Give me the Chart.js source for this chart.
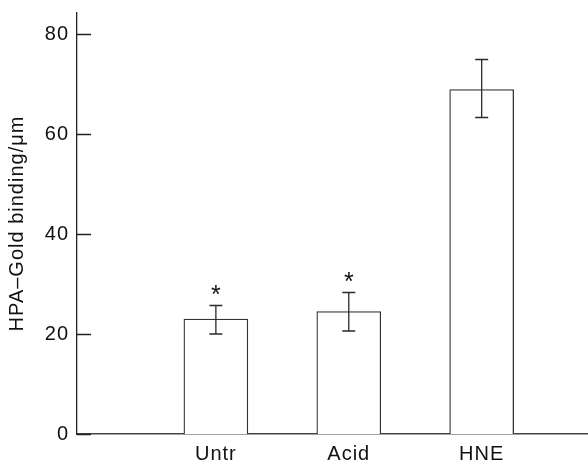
<!DOCTYPE html>
<html>
<head>
<meta charset="utf-8">
<script src="https://cdn.jsdelivr.net/npm/chart.js@4/dist/chart.umd.min.js"></script>
<style>
html,body{margin:0;padding:0;background:#fff;}
canvas{display:block;}
</style>
</head>
<body>
<canvas id="c" width="588" height="464"></canvas>
<script>
const categories = ["Untr", "Acid", "HNE"];
const positions = [1, 2, 3];
const means = [23.0, 24.5, 68.9];
const errUpper = [25.7, 28.3, 74.9];
const errLower = [20.0, 20.6, 63.3];
const marks = ["*", "*", ""];
const yTicks = [0, 20, 40, 60, 80];

const FONT = "'Liberation Sans', Arial, sans-serif";
const SPACING = '1px';

const spacingPlugin = {
  id: 'spacing',
  beforeUpdate(chart) { chart.ctx.letterSpacing = SPACING; },
  beforeDraw(chart) { chart.ctx.letterSpacing = SPACING; }
};

const errorBarPlugin = {
  id: 'errorBars',
  afterDatasetsDraw(chart) {
    const ctx = chart.ctx;
    const y = chart.scales.y;
    const meta = chart.getDatasetMeta(0);
    ctx.save();
    meta.data.forEach((bar, i) => {
      const x = bar.x;
      const yu = y.getPixelForValue(errUpper[i]);
      const yl = y.getPixelForValue(errLower[i]);
      ctx.strokeStyle = '#2a2a2a';
      ctx.lineWidth = 1.3;
      ctx.beginPath();
      ctx.moveTo(x, yu); ctx.lineTo(x, yl);
      ctx.moveTo(x - 6.5, yu); ctx.lineTo(x + 6.5, yu);
      ctx.moveTo(x - 6.5, yl); ctx.lineTo(x + 6.5, yl);
      ctx.stroke();
      if (marks[i]) {
        ctx.letterSpacing = '0px';
        ctx.fillStyle = '#111';
        ctx.font = "25px " + FONT;
        ctx.textAlign = 'center';
        ctx.textBaseline = 'alphabetic';
        ctx.fillText(marks[i], x, yu - 3);
      }
    });
    ctx.restore();
  }
};

const innerTicksPlugin = {
  id: 'innerTicks',
  afterDraw(chart) {
    const ctx = chart.ctx;
    const y = chart.scales.y;
    const left = chart.chartArea.left;
    ctx.save();
    ctx.strokeStyle = '#222';
    ctx.lineWidth = 1.3;
    ctx.beginPath();
    yTicks.forEach(v => {
      const py = Math.round(y.getPixelForValue(v)) + 0.5;
      ctx.moveTo(left, py); ctx.lineTo(left + 14, py);
    });
    ctx.stroke();
    ctx.restore();
  }
};

new Chart(document.getElementById('c'), {
  type: 'bar',
  data: {
    datasets: [{
      data: positions.map((p, i) => ({x: p, y: means[i]})),
      backgroundColor: '#ffffff',
      borderColor: '#333333',
      borderWidth: 1.3,
      barThickness: 64
    }]
  },
  options: {
    responsive: false,
    animation: false,
    devicePixelRatio: 1,
    layout: {padding: {top: 13, right: 0, left: 0, bottom: 0}},
    plugins: {legend: {display: false}, tooltip: {enabled: false}},
    scales: {
      x: {
        type: 'linear',
        offset: false,
        min: -0.045,
        max: 3.8,
        afterBuildTicks(scale) { scale.ticks = positions.map(v => ({value: v})); },
        afterFit(scale) { scale.height = 30; scale.paddingLeft = 0; scale.paddingRight = 0; },
        grid: {display: false, drawTicks: false},
        border: {display: true, color: '#444', width: 1.6},
        ticks: {
          padding: 8,
          color: '#111',
          font: {family: FONT, size: 20},
          maxRotation: 0,
          autoSkip: false,
          callback: (v) => { const i = positions.indexOf(v); return i >= 0 ? categories[i] : ''; }
        }
      },
      y: {
        min: 0,
        max: 84.2,
        afterBuildTicks(scale) { scale.ticks = yTicks.map(v => ({value: v})); },
        afterFit(scale) { scale.width = 77; scale.paddingTop = 0; scale.paddingBottom = 0; },
        grid: {display: false, drawTicks: false},
        border: {display: true, color: '#222', width: 1.3},
        ticks: {
          padding: 8,
          color: '#111',
          font: {family: FONT, size: 20}
        },
        title: {
          display: true,
          text: 'HPA–Gold binding/μm',
          color: '#111',
          font: {family: FONT, size: 20},
          padding: {top: 5, bottom: 0}
        }
      }
    }
  },
  plugins: [spacingPlugin, errorBarPlugin, innerTicksPlugin]
});
</script>
</body>
</html>
